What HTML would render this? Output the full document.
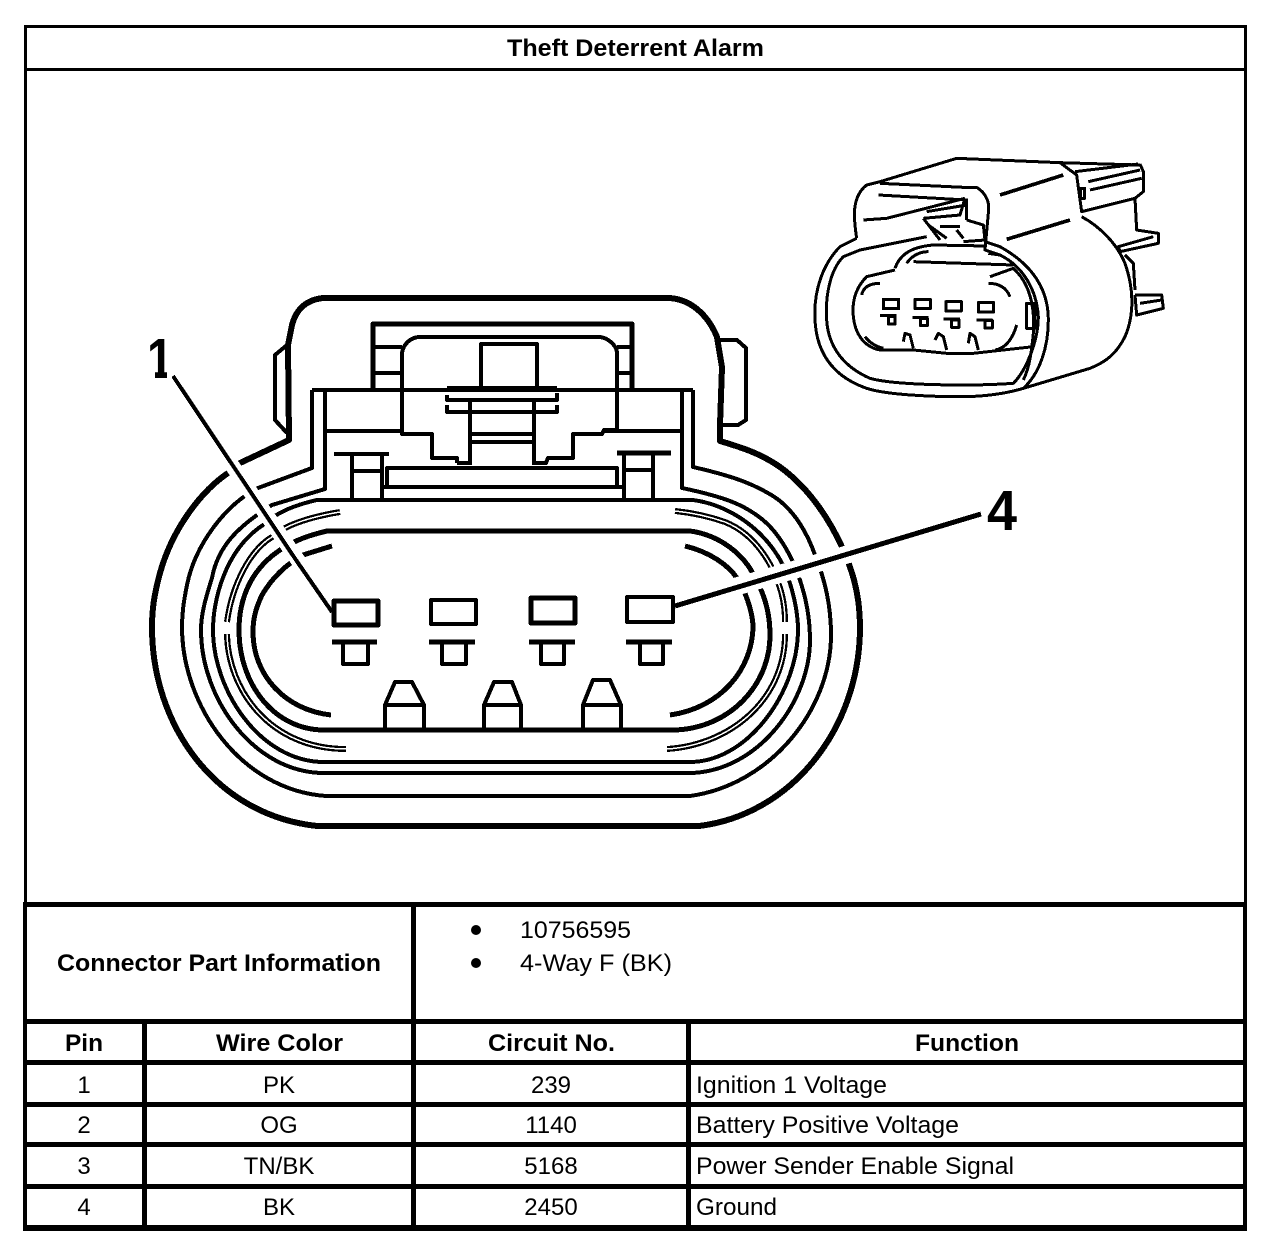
<!DOCTYPE html>
<html><head><meta charset="utf-8"><title>Theft Deterrent Alarm</title>
<style>html,body{margin:0;padding:0;background:#fff}svg{display:block}
text{font-family:"Liberation Sans",Arial,sans-serif;font-size:24px;fill:#000}
.b{font-weight:bold}</style></head><body>
<svg xmlns="http://www.w3.org/2000/svg" width="1280" height="1252" viewBox="0 0 1280 1252">
<rect width="1280" height="1252" fill="#fff"/>
<!-- table frame -->
<g fill="#000" shape-rendering="crispEdges">
<rect x="24" y="25" width="3" height="880"/><rect x="1244" y="25" width="3" height="880"/>
<rect x="23" y="902" width="4" height="329"/><rect x="1243" y="902" width="4" height="329"/>
<rect x="24" y="25" width="1223" height="3"/>
<rect x="24" y="68" width="1223" height="3"/>
<rect x="23" y="902" width="1224" height="5"/>
<rect x="23" y="1019" width="1224" height="5"/>
<rect x="23" y="1060" width="1224" height="5"/>
<rect x="23" y="1102" width="1224" height="5"/>
<rect x="23" y="1142" width="1224" height="5"/>
<rect x="23" y="1184" width="1224" height="5"/>
<rect x="23" y="1225" width="1224" height="6"/>
<rect x="142" y="1019" width="5" height="210"/>
<rect x="411" y="902" width="5" height="327"/>
<rect x="686" y="1019" width="5" height="210"/>
</g>
<!-- table text -->
<text class="b" x="507" y="56" textLength="257" lengthAdjust="spacingAndGlyphs">Theft Deterrent Alarm</text>
<text class="b" x="57" y="971" textLength="324" lengthAdjust="spacingAndGlyphs">Connector Part Information</text>
<circle cx="476" cy="930" r="5"/><circle cx="476" cy="963" r="5"/>
<text x="520" y="938" textLength="111" lengthAdjust="spacingAndGlyphs">10756595</text>
<text x="520" y="971" textLength="152" lengthAdjust="spacingAndGlyphs">4-Way F (BK)</text>
<text class="b" x="65" y="1051" textLength="38" lengthAdjust="spacingAndGlyphs">Pin</text>
<text class="b" x="216" y="1051" textLength="127" lengthAdjust="spacingAndGlyphs">Wire Color</text>
<text class="b" x="488" y="1051" textLength="127" lengthAdjust="spacingAndGlyphs">Circuit No.</text>
<text class="b" x="915" y="1051" textLength="104" lengthAdjust="spacingAndGlyphs">Function</text>
<g text-anchor="middle">
<text x="84" y="1093">1</text><text x="84" y="1133">2</text><text x="84" y="1174">3</text><text x="84" y="1215">4</text>
<text x="279" y="1093">PK</text><text x="279" y="1133">OG</text><text x="279" y="1174">TN/BK</text><text x="279" y="1215">BK</text>
<text x="551" y="1093">239</text><text x="551" y="1133">1140</text><text x="551" y="1174">5168</text><text x="551" y="1215">2450</text>
</g>
<text x="696" y="1093" textLength="191" lengthAdjust="spacingAndGlyphs">Ignition 1 Voltage</text>
<text x="696" y="1133" textLength="263" lengthAdjust="spacingAndGlyphs">Battery Positive Voltage</text>
<text x="696" y="1174" textLength="318" lengthAdjust="spacingAndGlyphs">Power Sender Enable Signal</text>
<text x="696" y="1215" textLength="81" lengthAdjust="spacingAndGlyphs">Ground</text>

<!-- large connector -->
<g fill="none" stroke="#000" stroke-width="4" stroke-linejoin="round" shape-rendering="crispEdges">
<!-- ring A / outer shell -->
<path stroke-width="6" d="M667 298 L323 298 C305 300 296 310 292 325 L288 345 L289 440 L240 463 L228 473 C200 492 172 530 160 573 C154 595 152 610 152 627 C152 725 215 815 317 826 L699 826 C790 815 860 730 860 627 C860 590 850 565 842 547 C832 525 812 490 780 467 C760 453 740 447 720 441 L720 425 L722 367 L717 337 C708 315 690 298 667 298 Z"/>
<path d="M287 345 L275 355 L275 420 L287 433"/>
<path d="M720 340 L737 340 L746 348 L746 420 L738 425 L722 425"/>
<!-- ring B -->
<path d="M312 390 L312 468 L258 488 C225 505 195 545 187 585 C184 600 182 612 182 627 C182 705 240 790 326 796 L690 796 C770 785 831 710 831 635 C831 605 825 580 815 555 C808 535 795 510 773 496 C755 485 737 477 693 467 L693 390"/>
<!-- ring C -->
<path d="M325 390 L325 489 L272 505 C240 525 218 545 212 578 C205 600 201 615 201 630 C201 700 255 773 324 773 L692 773 C760 770 810 700 810 640 C810 610 803 585 793 562 C785 545 775 530 763 520 C745 505 725 497 682 488 L682 390"/>
<!-- ring D -->
<path d="M693 500 C730 505 765 530 783 565 C792 585 798 610 798 630 C798 690 750 760 692 762 L324 762 C260 762 213 690 213 630 C213 600 225 550 263 525 C277 512 295 505 317 500 Z"/>
<!-- ring E double thin -->
<g stroke-width="6">
<path d="M340 512 C310 517 285 525 272 537 C250 550 232 585 227 622"/>
<path d="M227 634 C228 690 270 749 346 749"/>
<path d="M667 749 C730 745 785 700 785 634"/>
<path d="M785 622 C785 600 780 585 772 568 C760 545 745 530 725 522 C705 515 685 512 675 511"/>
</g>
<g stroke="#fff" stroke-width="1.5">
<path d="M340 512 C310 517 285 525 272 537 C250 550 232 585 227 622"/>
<path d="M227 634 C228 690 270 749 346 749"/>
<path d="M667 749 C730 745 785 700 785 634"/>
<path d="M785 622 C785 600 780 585 772 568 C760 545 745 530 725 522 C705 515 685 512 675 511"/>
</g>
<!-- ring F -->
<path stroke-width="5" d="M327 531 L690 531 C720 535 745 555 755 578 C765 595 770 615 770 635 C770 685 730 728 675 730 L324 730 C275 730 239 685 239 630 C239 600 250 570 280 550 C295 540 310 535 327 531 Z"/>
<!-- ring G -->
<path stroke-width="5" d="M332 546 L303 555 C285 565 272 578 262 595 C255 610 253 620 253 632 C253 675 285 710 331 715"/>
<path stroke-width="5" d="M670 715 C720 708 753 670 753 625 C752 610 745 590 737 578 C728 565 710 552 685 546"/>
<!-- leaders -->
<path stroke="#fff" stroke-width="15" d="M190 405 L320 592"/>
<path stroke="#fff" stroke-width="18" d="M700 597 L880 545"/>
<path d="M173 376 L296 560 L332 612"/>
<path stroke-width="5" d="M675 606 L981 514"/>
<!-- top structure -->
<path stroke-width="5" d="M373 390 L373 324 L632 324 L632 390"/>
<path d="M312 390 L693 390"/>
<path d="M325 431 L402 431 M602 431 L682 431"/>
<path d="M373 347 L402 347 M373 373 L402 373 M617 347 L632 347 M617 373 L632 373"/>
<path d="M457 463 L457 458 L432 458 L432 434 L402 434 L402 353 C403 345 410 337 420 337 L600 337 C608 338 616 345 617 352 L617 430 L604 430 L602 434 L573 434 L573 458 L548 458 L546 463 L535 463"/>
<path d="M457 463 L470 463"/>
<path d="M481 387 L481 344 L537 344 L537 387"/>
<path d="M447 388 L557 388"/>
<path d="M447 395 L447 400 L557 400 L557 393"/>
<path d="M447 405 L447 412 L557 412 L557 405"/>
<path d="M470 400 L470 465 M534 400 L534 465"/>
<path d="M470 434 L534 434 M470 442 L534 442"/>
<path d="M387 486 L387 468 L617 468 L617 486"/>
<path d="M382 487 L624 487"/>
<path d="M334 454 L389 454 M352 454 L352 500 M382 454 L382 500 M352 471 L382 471"/>
<path stroke-width="5" d="M617 453 L671 453"/>
<path d="M624 453 L624 500 M653 453 L653 500 M624 470 L653 470"/>
<!-- pins -->
<rect x="334" y="601" width="44" height="24" stroke-width="5"/>
<rect x="431" y="600" width="45" height="24"/>
<rect x="531" y="598" width="44" height="25" stroke-width="5"/>
<rect x="627" y="597" width="46" height="25"/>
<g stroke-width="4">
<path stroke-width="5" d="M332 642 L377 642 M429 642 L475 642 M529 642 L575 642 M626 642 L672 642"/>
<path d="M343 642 V664 H368 V642 M442 642 V664 H466 V642 M541 642 V664 H564 V642 M640 642 V664 H663 V642"/>
<path d="M385 729 V705 H424 V729 M385 705 L395 682 H412 L424 705"/>
<path d="M484 729 V705 H521 V729 M484 705 L494 682 H512 L521 705"/>
<path d="M583 729 V705 H621 V729 M583 705 L593 680 H610 L621 705"/>
</g>
</g>
<text class="b" x="147" y="378" style="font-size:57px" textLength="26" lengthAdjust="spacingAndGlyphs">1</text>
<rect x="144" y="371" width="11" height="9" fill="#fff"/><rect x="167" y="371" width="5" height="9" fill="#fff"/>
<text class="b" x="987" y="530" style="font-size:57px" textLength="30" lengthAdjust="spacingAndGlyphs">4</text>

<!-- small connector -->
<g transform="translate(800 140) scale(.33333)" fill="none" stroke="#000" stroke-width="9" stroke-linejoin="round" shape-rendering="crispEdges">
<path d="M170 295 C160 230 155 170 200 135 L240 125 L470 55 L780 68 L1020 75"/>
<path d="M780 68 L830 105 L845 215 L1005 175 L1030 155 L1030 95 L1020 72"/>
<path d="M825 95 L1015 72 M865 125 L1020 90 M870 150 L1025 115"/>
<rect x="842" y="145" width="12" height="30"/>
<path d="M1005 175 L1010 270 L1075 280 L1075 310 L960 335 L955 320 L1060 290"/>
<path d="M845 230 C900 260 950 310 975 370 C1000 440 1005 520 975 590 C950 640 920 665 870 685 L670 745"/>
<path d="M1005 465 L1085 465 L1090 505 L1010 525 L1005 465 M1020 490 L1085 480"/>
<path d="M975 345 L1000 370 L1005 450"/>
<path stroke-width="11" d="M600 165 L790 105 M620 298 L810 240"/>
<path d="M170 295 L120 320 C70 370 40 450 45 540 C50 640 100 710 200 745 C260 765 400 770 480 770 C560 770 620 760 670 745 C720 700 745 620 745 540 C745 440 690 370 600 320 L555 305"/>
<path d="M380 290 L180 330 L130 350 C90 390 75 470 80 540 C85 620 130 680 210 715 C280 735 500 740 640 730 C680 690 715 600 715 530 C710 450 670 380 600 345 L565 340"/>
<path d="M235 165 L500 180 M190 240 L260 235 L495 175"/>
<path d="M240 130 L490 142 L530 142 C560 160 570 190 565 220 L555 330 L600 345"/>
<path d="M500 240 L550 255 L555 300 L490 305"/>
<path d="M370 235 L480 225 L495 175 M370 235 L420 300 M385 255 L440 295 M420 260 L480 260 M470 270 L490 295 M380 215 L500 195 M500 175 L500 240"/>
<path d="M285 385 C300 340 340 320 400 315 L560 318 M320 370 C340 340 370 335 385 335 M340 365 L640 375"/>
<path d="M285 390 L200 410 C170 440 155 480 160 530 C165 580 190 620 240 630 L340 630 L440 640 L520 640 L700 620"/>
<path d="M570 410 L640 385 C690 430 705 500 700 580 C695 630 690 680 670 720"/>
<path d="M565 430 C600 430 620 445 630 470 M185 465 C190 440 210 430 240 430 M650 555 C640 590 620 625 585 630 M195 590 C210 610 230 620 250 625"/>
<rect x="250" y="478" width="46" height="28"/><rect x="345" y="478" width="46" height="28"/><rect x="438" y="485" width="46" height="28"/><rect x="535" y="488" width="46" height="28"/>
<path d="M240 527 L290 527 M338 532 L385 532 M430 537 L480 537 M530 540 L578 540"/>
<rect x="265" y="530" width="20" height="22"/><rect x="362" y="535" width="20" height="22"/><rect x="455" y="540" width="22" height="22"/><rect x="555" y="542" width="22" height="22"/>
<path d="M310 605 L315 580 L330 585 L340 625 M405 600 L415 580 L430 590 L440 630 M505 610 L510 580 L525 590 L535 630"/>
<rect x="680" y="490" width="25" height="75"/>
</g>
</svg>
</body></html>
